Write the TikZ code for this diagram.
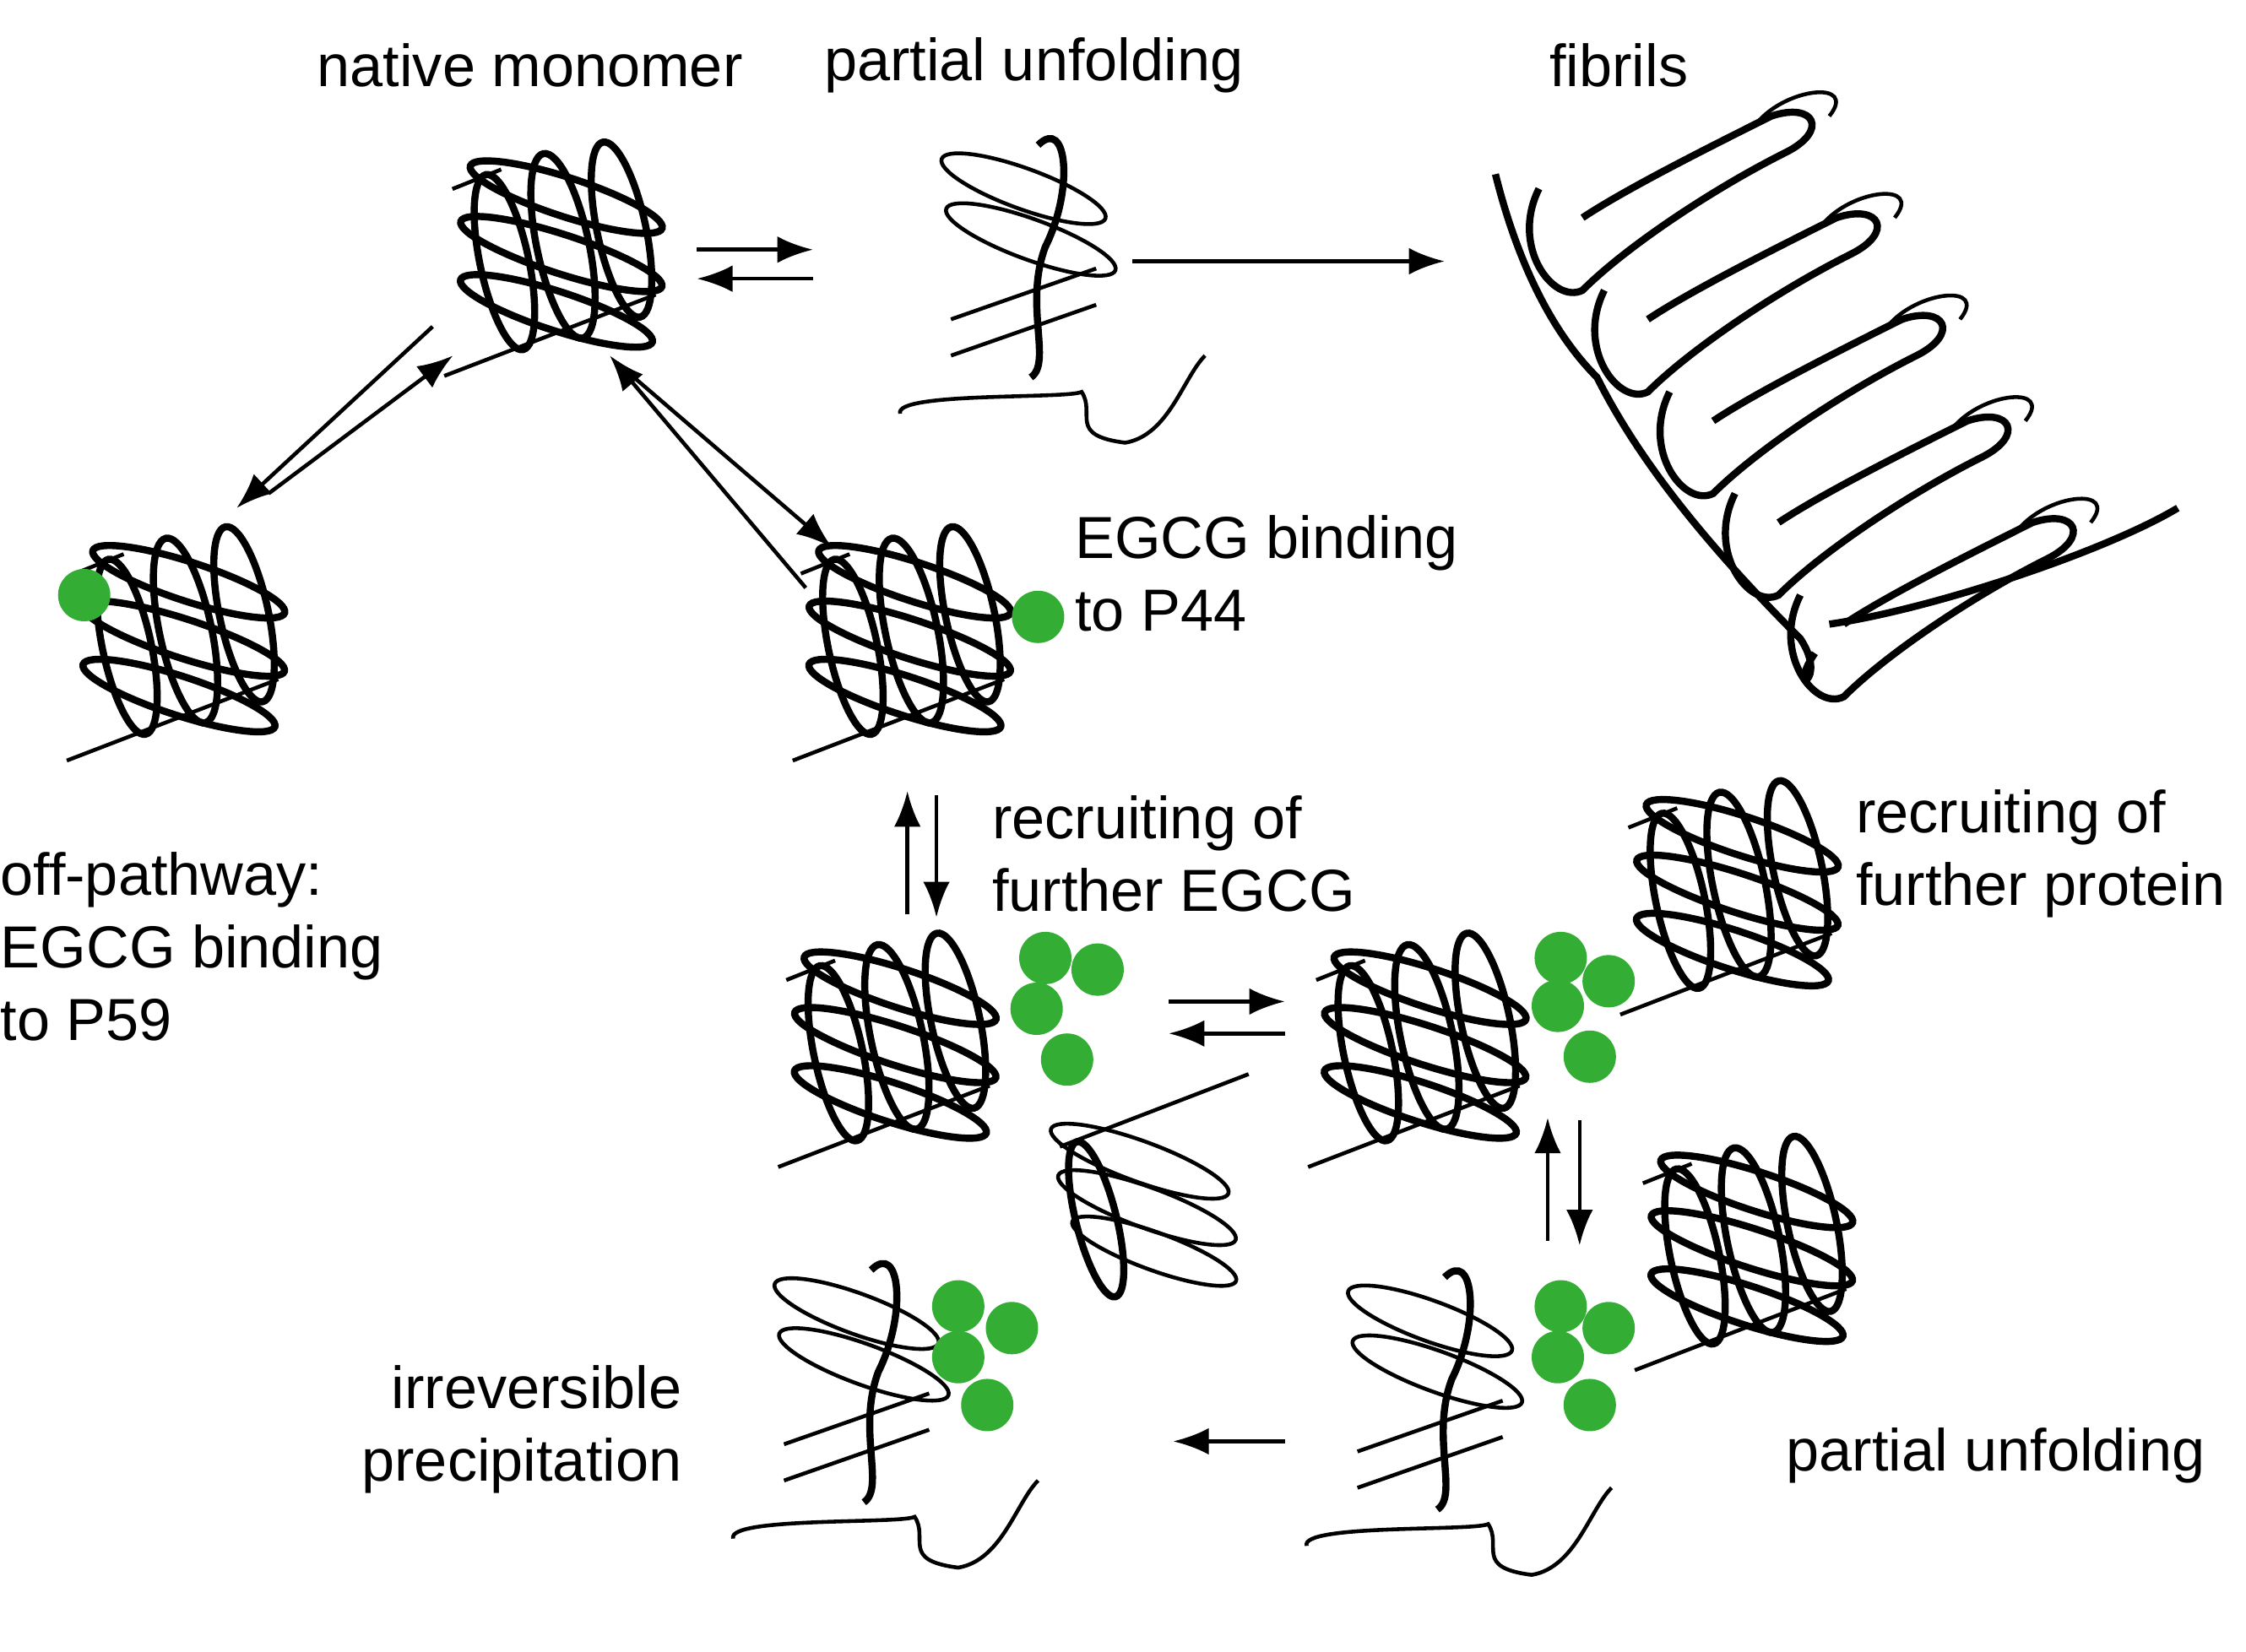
\documentclass[tikz,border=0pt]{standalone}
\usepackage{fontspec}
\setmainfont{Liberation Sans}
\usetikzlibrary{arrows.meta}
\begin{document}
\begin{tikzpicture}[x=0.0172cm,y=-0.0172cm,
  lbl/.style={font=\fontsize{20}{24.5}\selectfont,inner sep=0pt,align=left},
  coil/.style={line width=2.4pt,black},
  thin/.style={line width=1.3pt,black},
  arr/.style={line width=1.3pt,-{Latex[length=12pt,width=9pt]}},
  egcg/.style={circle,fill=green!60!black!80!white,minimum size=0.62cm,inner sep=0pt},
  folded/.pic={
    \draw[coil] (-38,5) ellipse[x radius=15,y radius=55,rotate=12];
    \draw[coil] (-2,-5) ellipse[x radius=16,y radius=58,rotate=12];
    \draw[coil] (34,-15) ellipse[x radius=15,y radius=55,rotate=12];
    \draw[coil] (0,-35) ellipse[x radius=62,y radius=12,rotate=-18];
    \draw[coil] (-3,0) ellipse[x radius=65,y radius=12,rotate=-18];
    \draw[coil] (-6,35) ellipse[x radius=62,y radius=12,rotate=-18];
    \draw[thin] (-75,75) -- (55,25);
    \draw[thin] (-70,-40) -- (-40,-52);
  },
  unfolded/.pic={
    \draw[coil] (0,-90) .. controls (20,-110) and (25,-60) .. (5,-20) .. controls (-10,20) and (10,60) .. (-5,70);
    \draw[thin] (-10,-60) ellipse[x radius=60,y radius=14,rotate=-20];
    \draw[thin] (-5,-25) ellipse[x radius=62,y radius=14,rotate=-20];
    \draw[thin] (-60,30) -- (40,-5);
    \draw[thin] (-60,55) -- (40,20);
    \draw[thin] (-95,95) .. controls (-100,80) and (20,85) .. (30,80) .. controls (40,95) and (20,110) .. (60,115) .. controls (90,110) and (100,70) .. (115,55);
  },
]
\useasboundingbox (0,0) rectangle (1547,1138);
% labels
\node[lbl] (t1) at (365,45) {native monomer};
\node[lbl] (t2) at (712,45) {partial unfolding};
\node[lbl] (t3) at (1115,45) {fibrils};
\node[lbl,anchor=west] (t4) at (740,395) {EGCG binding\\to P44};
\node[lbl,anchor=west] (t5) at (683,588) {recruiting of\\further EGCG};
\node[lbl,anchor=west] (t6) at (1278,588) {recruiting of\\further protein};
\node[lbl,anchor=west] (t7) at (0,652) {off-pathway:\\EGCG binding\\to P59};
\node[lbl,anchor=east,align=right] (t8) at (470,985) {irreversible\\precipitation};
\node[lbl,anchor=west] (t9) at (1230,1003) {partial unfolding};

% proteins
\pic[scale=1.12] at (390,175) {folded};
\pic at (715,190) {unfolded};
\pic[scale=1.12] at (130,440) {folded};
\node[egcg] (d0) at (58,410) {};
\pic[scale=1.12] at (630,440) {folded};
\node[egcg] (d1) at (715,425) {};

\pic[scale=1.12] at (620,720) {folded};
\node[egcg] at (720,660) {}; \node[egcg] at (756,668) {};
\node[egcg] at (714,695) {}; \node[egcg] at (735,730) {};

\pic[scale=1.12] at (985,720) {folded};
\pic[scale=1.12] at (1200,615) {folded};
\node[egcg] at (1075,660) {}; \node[egcg] at (1108,676) {};
\node[egcg] at (1073,693) {}; \node[egcg] at (1095,728) {};

\pic at (995,970) {unfolded};
\pic[scale=1.12] at (1210,860) {folded};
\node[egcg] at (1075,900) {}; \node[egcg] at (1108,915) {};
\node[egcg] at (1073,935) {}; \node[egcg] at (1095,968) {};

\pic at (600,965) {unfolded};
\begin{scope}[shift={(790,840)}]
  \draw[thin] (-5,-40) ellipse[x radius=65,y radius=14,rotate=-20];
  \draw[thin] (0,-8) ellipse[x radius=65,y radius=14,rotate=-20];
  \draw[thin] (5,22) ellipse[x radius=60,y radius=13,rotate=-20];
  \draw[coil] (-35,0) ellipse[x radius=14,y radius=55,rotate=14];
  \draw[thin] (-60,-50) -- (70,-100);
\end{scope}
\node[egcg] at (660,900) {}; \node[egcg] at (697,915) {};
\node[egcg] at (660,935) {}; \node[egcg] at (680,968) {};

% fibrils
\foreach \i in {0,...,4}{
  \begin{scope}[shift={(1060+45*\i,130+70*\i)}]
    \draw[coil] (0,0) .. controls (-20,40) and (10,80) .. (30,70) .. controls (60,40) and (120,0) .. (170,-25) .. controls (200,-40) and (190,-60) .. (160,-50) .. controls (120,-30) and (60,0) .. (30,20);
    \draw[thin] (150,-45) .. controls (170,-70) and (220,-75) .. (200,-50);
  \end{scope}
}
\draw[coil] (1030,120) .. controls (1050,200) and (1080,240) .. (1100,260) .. controls (1130,320) and (1180,380) .. (1240,440) .. controls (1260,470) and (1230,480) .. (1250,450);
\draw[coil] (1260,430) .. controls (1330,420) and (1450,380) .. (1500,350);

% arrows
\coordinate (a1) at (480,172); \coordinate (a2) at (560,172);
\coordinate (a3) at (560,192); \coordinate (a4) at (480,192);
\draw[arr] (a1) -- (a2); \draw[arr] (a3) -- (a4);
\coordinate (b1) at (780,180); \coordinate (b2) at (995,180);
\draw[arr] (b1) -- (b2);
\coordinate (c1) at (298,225); \coordinate (c2) at (163,350);
\coordinate (c3) at (185,340); \coordinate (c4) at (312,245);
\draw[arr] (c1) -- (c2); \draw[arr] (c3) -- (c4);
\coordinate (e3) at (555,405); \coordinate (e4) at (425,250);
\draw[arr] (e4) -- ++(148,127); \draw[arr] (e3) -- ++(-135,-160);
\coordinate (f1) at (625,630); \coordinate (f2) at (625,545);
\coordinate (f3) at (645,548); \coordinate (f4) at (645,632);
\draw[arr] (f1) -- (f2); \draw[arr] (f3) -- (f4);
\coordinate (g1) at (805,690); \coordinate (g2) at (885,690);
\coordinate (g3) at (885,712); \coordinate (g4) at (805,712);
\draw[arr] (g1) -- (g2); \draw[arr] (g3) -- (g4);
\coordinate (h1) at (1066,855); \coordinate (h2) at (1066,770);
\coordinate (h3) at (1088,772); \coordinate (h4) at (1088,858);
\draw[arr] (h1) -- (h2); \draw[arr] (h3) -- (h4);
\coordinate (k1) at (885,993); \coordinate (k2) at (808,993);
\draw[arr] (k1) -- (k2);
\end{tikzpicture}
\end{document}
